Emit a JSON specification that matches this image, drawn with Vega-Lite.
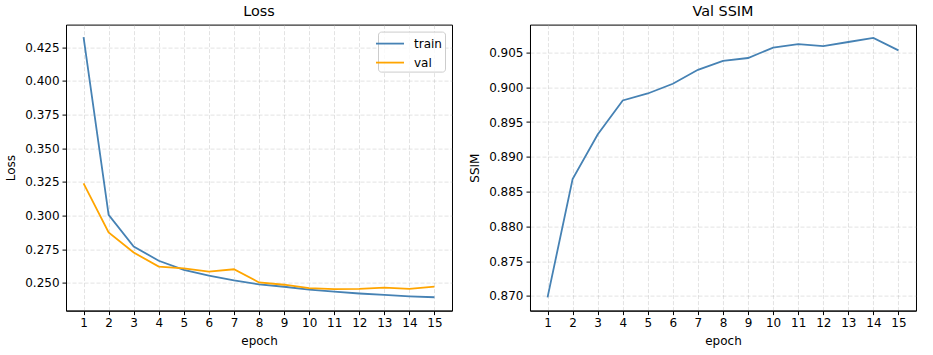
{
  "$schema": "https://vega.github.io/schema/vega-lite/v6.json",
  "padding": {"left": 4, "top": 3.6, "right": 0, "bottom": 0},
  "background": "white",
  "spacing": 15,
  "resolve": {"legend": {"color": "independent"}},
  "datasets": {
    "loss": [
      {"epoch": 1, "split": "train", "loss": 0.4325},
      {"epoch": 2, "split": "train", "loss": 0.3006},
      {"epoch": 3, "split": "train", "loss": 0.2771},
      {"epoch": 4, "split": "train", "loss": 0.2665},
      {"epoch": 5, "split": "train", "loss": 0.2597},
      {"epoch": 6, "split": "train", "loss": 0.2554},
      {"epoch": 7, "split": "train", "loss": 0.2519},
      {"epoch": 8, "split": "train", "loss": 0.2490},
      {"epoch": 9, "split": "train", "loss": 0.2472},
      {"epoch": 10, "split": "train", "loss": 0.2450},
      {"epoch": 11, "split": "train", "loss": 0.2436},
      {"epoch": 12, "split": "train", "loss": 0.2422},
      {"epoch": 13, "split": "train", "loss": 0.2411},
      {"epoch": 14, "split": "train", "loss": 0.2401},
      {"epoch": 15, "split": "train", "loss": 0.2394},
      {"epoch": 1, "split": "val", "loss": 0.3239},
      {"epoch": 2, "split": "val", "loss": 0.2875},
      {"epoch": 3, "split": "val", "loss": 0.2726},
      {"epoch": 4, "split": "val", "loss": 0.2622},
      {"epoch": 5, "split": "val", "loss": 0.2609},
      {"epoch": 6, "split": "val", "loss": 0.2584},
      {"epoch": 7, "split": "val", "loss": 0.2602},
      {"epoch": 8, "split": "val", "loss": 0.2504},
      {"epoch": 9, "split": "val", "loss": 0.2487},
      {"epoch": 10, "split": "val", "loss": 0.2462},
      {"epoch": 11, "split": "val", "loss": 0.2454},
      {"epoch": 12, "split": "val", "loss": 0.2456},
      {"epoch": 13, "split": "val", "loss": 0.2466},
      {"epoch": 14, "split": "val", "loss": 0.2456},
      {"epoch": 15, "split": "val", "loss": 0.2473}
    ],
    "ssim": [
      {"epoch": 1, "ssim": 0.8698},
      {"epoch": 2, "ssim": 0.8868},
      {"epoch": 3, "ssim": 0.8932},
      {"epoch": 4, "ssim": 0.8981},
      {"epoch": 5, "ssim": 0.8991},
      {"epoch": 6, "ssim": 0.9005},
      {"epoch": 7, "ssim": 0.9025},
      {"epoch": 8, "ssim": 0.9038},
      {"epoch": 9, "ssim": 0.9042},
      {"epoch": 10, "ssim": 0.9057},
      {"epoch": 11, "ssim": 0.9062},
      {"epoch": 12, "ssim": 0.9059},
      {"epoch": 13, "ssim": 0.9065},
      {"epoch": 14, "ssim": 0.9071},
      {"epoch": 15, "ssim": 0.9053}
    ]
  },
  "hconcat": [
    {
      "width": 386,
      "height": 286,
      "title": {"text": "Loss"},
      "data": {"name": "loss"},
      "mark": {"type": "line", "strokeWidth": 1.8, "clip": true},
      "encoding": {
        "x": {
          "field": "epoch",
          "type": "quantitative",
          "title": "epoch",
          "scale": {"domain": [0.3, 15.7], "nice": false, "zero": false},
          "axis": {"values": [1,2,3,4,5,6,7,8,9,10,11,12,13,14,15], "format": "d"}
        },
        "y": {
          "field": "loss",
          "type": "quantitative",
          "title": "Loss",
          "scale": {"domain": [0.2295, 0.4418], "nice": false, "zero": false},
          "axis": {"values": [0.25, 0.275, 0.3, 0.325, 0.35, 0.375, 0.4, 0.425], "format": ".3f"}
        },
        "color": {
          "field": "split",
          "type": "nominal",
          "scale": {"domain": ["train", "val"], "range": ["#4682b4", "#ffa500"]},
          "legend": {
            "title": null,
            "orient": "top-right",
            "offset": 7,
            "padding": 3,
            "symbolType": "M-1.75,0H1.75",
            "symbolSize": 256,
            "symbolStrokeWidth": 1.8,
            "symbolFillColor": "transparent",
            "labelOffset": 15,
            "labelFontSize": 12,
            "rowPadding": 4,
            "strokeColor": "#cccccc",
            "fillColor": "rgba(255,255,255,0.8)",
            "cornerRadius": 3
          }
        }
      }
    },
    {
      "width": 386,
      "height": 286,
      "title": {"text": "Val SSIM"},
      "data": {"name": "ssim"},
      "mark": {"type": "line", "strokeWidth": 1.8, "color": "#4682b4", "clip": true},
      "encoding": {
        "x": {
          "field": "epoch",
          "type": "quantitative",
          "title": "epoch",
          "scale": {"domain": [0.3, 15.7], "nice": false, "zero": false},
          "axis": {"values": [1,2,3,4,5,6,7,8,9,10,11,12,13,14,15], "format": "d"}
        },
        "y": {
          "field": "ssim",
          "type": "quantitative",
          "title": "SSIM",
          "scale": {"domain": [0.8679, 0.9090], "nice": false, "zero": false},
          "axis": {"values": [0.87, 0.875, 0.88, 0.885, 0.89, 0.895, 0.9, 0.905], "format": ".3f"}
        }
      }
    }
  ],
  "config": {
    "font": "DejaVu Sans",
    "view": {"stroke": "#000000", "strokeWidth": 1},
    "title": {"fontSize": 14.4, "fontWeight": "normal", "color": "#000000", "offset": 5, "anchor": "middle"},
    "axis": {
      "labelFont": "DejaVu Sans",
      "labelFontSize": 12,
      "labelColor": "#000000",
      "titleFont": "DejaVu Sans",
      "titleFontSize": 12,
      "titleFontWeight": "normal",
      "titleColor": "#000000",
      "domainColor": "#000000",
      "domainWidth": 1,
      "tickColor": "#000000",
      "tickSize": 4,
      "tickWidth": 1,
      "labelPadding": 3,
      "labelFlush": false,
      "labelOverlap": false,
      "grid": true,
      "gridColor": "#b0b0b0",
      "gridOpacity": 0.4,
      "gridDash": [4, 2],
      "gridWidth": 0.9
    },
    "axisX": {"titlePadding": 7, "labelPadding": 3},
    "axisY": {"titlePadding": 7},
    "legend": {"labelFont": "DejaVu Sans", "labelColor": "#000000"}
  }
}
